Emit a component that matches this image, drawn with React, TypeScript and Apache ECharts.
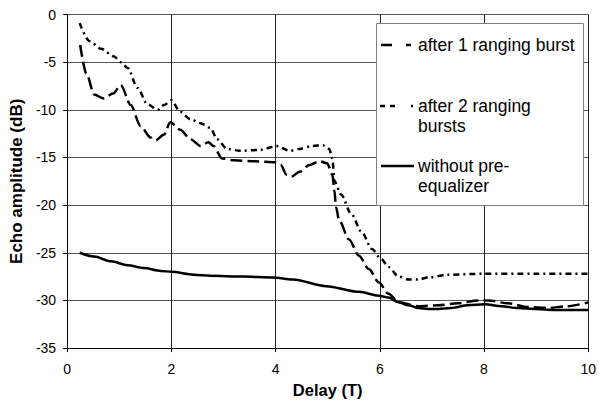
import React, { useEffect, useRef } from "react";
import * as echarts from "echarts";

const burst1X = [0.25, 0.37, 0.52, 0.7, 0.88, 1.03, 1.22, 1.41, 1.6, 1.7, 1.86, 1.98, 2.17, 2.37, 2.56, 2.71, 2.81, 2.97, 3.2, 3.6, 4.0, 4.1, 4.21, 4.31, 4.46, 4.65, 4.84, 4.99, 5.09, 5.13, 5.16, 5.22, 5.41, 5.6, 5.79, 5.98, 6.17, 6.36, 6.74, 7.12, 7.5, 7.89, 8.08, 8.46, 8.84, 9.22, 9.6, 10];
const burst1Y = [-3.2, -6.2, -8.4, -8.8, -8.3, -7.4, -9.5, -11.7, -12.9, -13.2, -12.6, -11.3, -12.1, -13.1, -13.8, -13.4, -13.8, -15.1, -15.3, -15.4, -15.5, -15.8, -16.8, -17.0, -16.5, -15.8, -15.4, -15.6, -16.8, -18.5, -20.2, -21.6, -23.6, -25.3, -26.7, -28.1, -29.3, -30.2, -30.6, -30.5, -30.3, -30.0, -30.0, -30.3, -30.7, -30.8, -30.6, -30.2];

const burst2X = [0.24, 0.43, 0.65, 0.9, 1.03, 1.16, 1.35, 1.54, 1.74, 1.86, 2.0, 2.17, 2.37, 2.56, 2.75, 2.88, 3.07, 3.32, 3.7, 4.02, 4.27, 4.46, 4.71, 4.9, 5.03, 5.09, 5.13, 5.26, 5.45, 5.66, 5.85, 6.02, 6.17, 6.36, 6.55, 6.74, 6.93, 7.31, 8, 9, 10];
const burst2Y = [-0.9, -2.8, -3.6, -4.4, -5.0, -5.6, -7.7, -9.4, -10.0, -9.5, -9.0, -10.2, -11.0, -11.4, -11.9, -13.1, -14.1, -14.3, -14.2, -13.8, -14.3, -14.1, -13.8, -13.7, -14.1, -15.1, -17.5, -18.9, -20.9, -22.9, -24.6, -25.6, -26.5, -27.5, -27.8, -27.8, -27.6, -27.3, -27.2, -27.2, -27.2];

const noEqX = [0.24, 0.52, 0.84, 1.16, 1.47, 1.8, 2.0, 2.43, 2.75, 3.38, 3.95, 4.33, 4.97, 5.6, 5.98, 6.17, 6.36, 6.55, 6.74, 6.93, 7.12, 7.37, 7.69, 8.02, 8.33, 8.65, 8.97, 9.35, 10];
const noEqY = [-25.0, -25.4, -25.9, -26.3, -26.6, -26.9, -27.0, -27.3, -27.4, -27.5, -27.6, -27.8, -28.5, -29.1, -29.5, -29.7, -30.2, -30.5, -30.8, -30.9, -30.9, -30.8, -30.5, -30.4, -30.6, -30.8, -30.9, -31.0, -31.0];

const seriesNames = ["after 1 ranging burst", "after 2 ranging\nbursts", "without pre-\nequalizer"];
const xTicks = [0, 2, 4, 6, 8, 10];
const yTicks = [-35, -30, -25, -20, -15, -10, -5, 0];

const zip = (xs: number[], ys: number[]) => xs.map((x, i) => [x, ys[i]]);

const FONT = "'Liberation Sans', Arial, sans-serif";

export default function App() {
  const ref = useRef<HTMLDivElement>(null);
  useEffect(() => {
    if (!ref.current) return;
    const chart = echarts.init(ref.current, null, { renderer: "svg" });
    const legendText = (y: number, text: string) => ({
      type: "text",
      left: 418,
      top: y - 10,
      z: 12,
      style: { text, fill: "#000", fontFamily: FONT, fontSize: 17.5, lineHeight: 20 },
    });
    const seg = (x1: number, x2: number, y: number) => ({
      type: "line",
      z: 12,
      shape: { x1, y1: y, x2, y2: y },
      style: { stroke: "#000", lineWidth: 2.5 },
    });
    chart.setOption({
      animation: false,
      backgroundColor: "#fff",
      grid: { left: 66, right: 8, top: 14.5, bottom: 44, show: false },
      xAxis: {
        type: "value",
        min: xTicks[0],
        max: xTicks[xTicks.length - 1],
        interval: 2,
        name: "Delay (T)",
        nameLocation: "middle",
        nameGap: 20,
        nameTextStyle: { fontFamily: FONT, fontSize: 16.5, fontWeight: "bold", color: "#000" },
        axisLine: { show: true, onZero: false, lineStyle: { color: "#000", width: 1 } },
        axisTick: { show: true, length: 4, lineStyle: { color: "#000" } },
        axisLabel: { fontFamily: FONT, fontSize: 14, color: "#000", margin: 14 },
        splitLine: { show: true, lineStyle: { color: "#222", width: 1 } },
      },
      yAxis: {
        type: "value",
        min: yTicks[0],
        max: yTicks[yTicks.length - 1],
        interval: 5,
        name: "Echo amplitude (dB)",
        nameLocation: "middle",
        nameGap: 39,
        nameTextStyle: { fontFamily: FONT, fontSize: 17, fontWeight: "bold", color: "#000" },
        axisLine: { show: true, onZero: false, lineStyle: { color: "#000", width: 1 } },
        axisTick: { show: true, length: 4, lineStyle: { color: "#000" } },
        axisLabel: { fontFamily: FONT, fontSize: 14, color: "#000", margin: 11 },
        splitLine: { show: true, lineStyle: { color: "#555", width: 1 } },
      },
      series: [
        {
          name: seriesNames[0],
          type: "line",
          data: zip(burst1X, burst1Y),
          showSymbol: false,
          smooth: 0.3,
          smoothMonotone: "x",
          lineStyle: { color: "#000", width: 2.5, type: [12, 5] },
          z: 3,
        },
        {
          name: seriesNames[1],
          type: "line",
          data: zip(burst2X, burst2Y),
          showSymbol: false,
          smooth: 0.3,
          smoothMonotone: "x",
          lineStyle: { color: "#000", width: 2.5, type: [6, 4, 2, 4] },
          z: 3,
        },
        {
          name: seriesNames[2],
          type: "line",
          data: zip(noEqX, noEqY),
          showSymbol: false,
          smooth: 0.3,
          smoothMonotone: "x",
          lineStyle: { color: "#000", width: 2.5 },
          z: 3,
        },
      ],
      graphic: [
        {
          type: "rect",
          z: 10,
          shape: { x: 376.5, y: 23.5, width: 207, height: 182 },
          style: { fill: "#fff", stroke: "#808080", lineWidth: 1 },
        },
        seg(381, 392, 45),
        seg(406, 411, 45),
        legendText(45, seriesNames[0]),
        seg(380, 385, 106),
        seg(390, 395, 106),
        seg(411, 413, 106),
        legendText(106, seriesNames[1]),
        seg(381, 414, 166),
        legendText(166, seriesNames[2]),
      ],
    });
    return () => chart.dispose();
  }, []);
  return <div ref={ref} style={{ position: "fixed", left: 0, top: 0, width: 599, height: 403 }} />;
}
